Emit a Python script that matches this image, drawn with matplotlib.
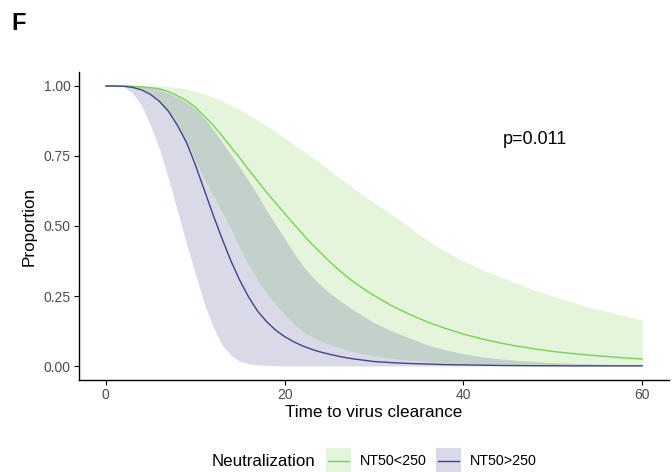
import matplotlib
matplotlib.use('Agg')
import matplotlib.pyplot as plt
from matplotlib.patches import Rectangle
from matplotlib.lines import Line2D

plt.rcParams['font.family'] = ['Liberation Sans', 'DejaVu Sans']

# time grid (days): daily up to 30, then every 2 days
time = list(range(0, 31)) + list(range(32, 61, 2))

# NT50<250: estimate and confidence band
low_est = [1.0, 1.0, 1.0, 0.999, 0.997, 0.994, 0.99, 0.98, 0.965, 0.948, 0.925,
           0.893, 0.86, 0.822, 0.782, 0.742, 0.70, 0.66, 0.62, 0.582, 0.545,
           0.508, 0.472, 0.437, 0.405, 0.374, 0.345, 0.318, 0.294, 0.272, 0.252,
           0.215, 0.184, 0.157, 0.134, 0.114, 0.097, 0.083, 0.071, 0.061, 0.052,
           0.045, 0.039, 0.034, 0.029, 0.025]
low_upper = [1.0, 1.0, 1.0, 1.0, 1.0, 1.0, 1.0, 0.998, 0.995, 0.99, 0.982,
             0.972, 0.96, 0.946, 0.93, 0.914, 0.897, 0.878, 0.857, 0.836, 0.815,
             0.792, 0.77, 0.747, 0.724, 0.70, 0.675, 0.652, 0.628, 0.605, 0.584,
             0.54, 0.495, 0.448, 0.41, 0.375, 0.345, 0.32, 0.295, 0.27, 0.25,
             0.23, 0.21, 0.195, 0.18, 0.164]
low_lower = [1.0, 1.0, 1.0, 1.0, 0.99, 0.975, 0.95, 0.91, 0.865, 0.805, 0.735,
             0.67, 0.61, 0.55, 0.49, 0.42, 0.36, 0.305, 0.26, 0.22, 0.185,
             0.152, 0.125, 0.105, 0.09, 0.077, 0.066, 0.057, 0.049, 0.042, 0.036,
             0.028, 0.021, 0.016, 0.012, 0.009, 0.007, 0.005, 0.004, 0.003, 0.002,
             0.001, 0.001, 0.001, 0.001, 0.001]

# NT50>250: estimate and confidence band
high_est = [1.0, 1.0, 0.999, 0.995, 0.986, 0.97, 0.945, 0.91, 0.86, 0.80, 0.72,
            0.63, 0.54, 0.455, 0.375, 0.305, 0.245, 0.195, 0.158, 0.128, 0.105,
            0.087, 0.072, 0.06, 0.05, 0.042, 0.035, 0.029, 0.024, 0.02, 0.016,
            0.012, 0.009, 0.007, 0.005, 0.004, 0.003, 0.002, 0.0015, 0.001, 0.001,
            0.0005, 0.0005, 0.0005, 0.0005, 0.0005]
high_upper = [1.0, 1.0, 1.0, 1.0, 0.998, 0.994, 0.987, 0.975, 0.96, 0.942, 0.92,
              0.885, 0.845, 0.80, 0.755, 0.708, 0.66, 0.61, 0.555, 0.505, 0.455,
              0.405, 0.36, 0.322, 0.29, 0.262, 0.238, 0.215, 0.194, 0.174, 0.155,
              0.125, 0.1, 0.075, 0.058, 0.044, 0.033, 0.026, 0.02, 0.016, 0.012,
              0.01, 0.008, 0.006, 0.005, 0.004]
high_lower = [1.0, 1.0, 0.998, 0.975, 0.93, 0.86, 0.775, 0.67, 0.555, 0.44, 0.33,
              0.225, 0.14, 0.075, 0.038, 0.017, 0.008, 0.004, 0.002, 0.001, 0.0,
              0.0, 0.0, 0.0, 0.0, 0.0, 0.0, 0.0, 0.0, 0.0, 0.0,
              0.0, 0.0, 0.0, 0.0, 0.0, 0.0, 0.0, 0.0, 0.0, 0.0,
              0.0, 0.0, 0.0, 0.0, 0.0]

groups = ['NT50<250', 'NT50>250']
colors = ['#7AD151', '#414487']
p_label = 'p=0.011'

W, H = 672, 472
fig = plt.figure(figsize=(W / 100, H / 100), dpi=100)
ax = fig.add_axes([79 / W, 92 / H, 590 / W, 308 / H])

ax.fill_between(time, low_lower, low_upper, color=colors[0], alpha=0.2, lw=0)
ax.fill_between(time, high_lower, high_upper, color=colors[1], alpha=0.2, lw=0)
ax.plot(time, low_est, color=colors[0], lw=1.0)
ax.plot(time, high_est, color=colors[1], lw=1.0)

ax.set_xlim(-3, 63)
ax.set_ylim(-0.05, 1.05)
ax.set_xticks([0, 20, 40, 60])
ax.set_yticks([0, 0.25, 0.5, 0.75, 1.0])
ax.set_yticklabels(['0.00', '0.25', '0.50', '0.75', '1.00'])
ax.tick_params(labelsize=10, labelcolor='#4d4d4d', color='black',
               length=3.6, width=0.8, pad=2.5)
for side in ['top', 'right']:
    ax.spines[side].set_visible(False)
for side in ['left', 'bottom']:
    ax.spines[side].set_linewidth(1.0)

ax.set_xlabel('Time to virus clearance', fontsize=12.3, labelpad=2)
ax.set_ylabel('Proportion', fontsize=12.3, labelpad=5)

ax.text(48, 0.81, p_label, fontsize=13, ha='center', va='center')

fig.text(11 / W, 1 - 23 / H, 'F', fontsize=17, fontweight='bold',
         ha='left', va='center')

# legend at the bottom, drawn by hand to match ggplot's layout
fig.text(212 / W, 1 - 461 / H, 'Neutralization', fontsize=12.2,
         ha='left', va='center')
key_left = [326, 436]
for c, lab, kx in zip(colors, groups, key_left):
    fig.patches.append(Rectangle((kx / W, 1 - 472 / H), 25 / W, 24 / H,
                                 transform=fig.transFigure, facecolor=c,
                                 alpha=0.2, edgecolor='none'))
    fig.lines.append(Line2D([(kx + 2) / W, (kx + 23) / W],
                            [1 - 461 / H, 1 - 461 / H],
                            transform=fig.transFigure, color=c, lw=1.0))
    fig.text((kx + 34) / W, 1 - 461 / H, lab, fontsize=10.3,
             ha='left', va='center')

fig.savefig('out.png', dpi=100)
